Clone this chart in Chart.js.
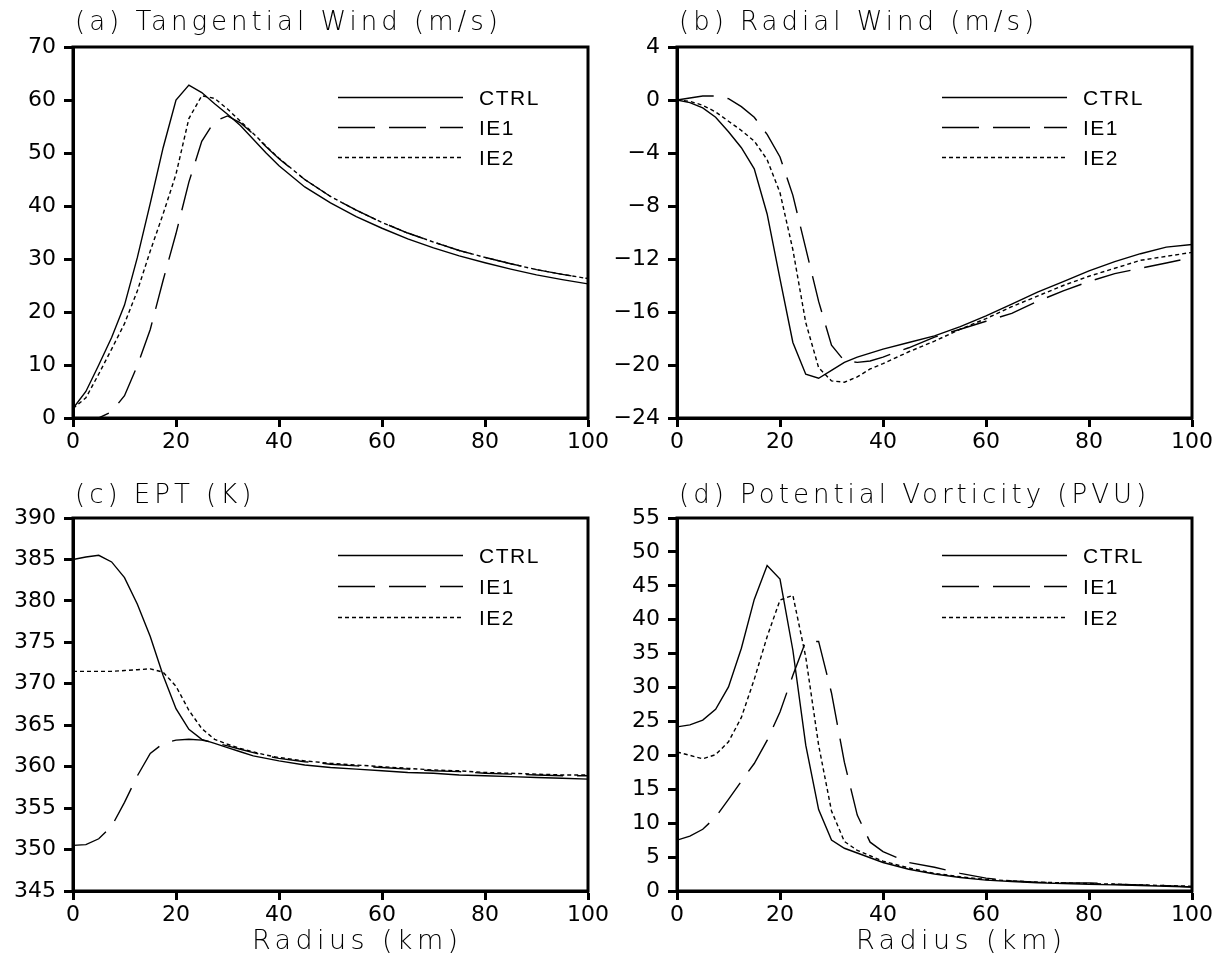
<!DOCTYPE html>
<html>
<head>
<meta charset="utf-8">
<title>Azimuthal mean profiles</title>
<script src="https://cdn.jsdelivr.net/npm/chart.js@4.4.0/dist/chart.umd.min.js"></script>
<style>
  html, body { margin: 0; padding: 0; background: #fff; }
  #page { position: relative; width: 1228px; height: 960px; background: #fff; }
  .panel { position: absolute; }
</style>
</head>
<body>
<div id="page">
  <div class="panel" style="left:0;top:0;width:614px;height:470px"><canvas id="tang"></canvas></div>
  <div class="panel" style="left:614px;top:0;width:614px;height:470px"><canvas id="rad"></canvas></div>
  <div class="panel" style="left:0;top:470px;width:614px;height:490px"><canvas id="ept"></canvas></div>
  <div class="panel" style="left:614px;top:470px;width:614px;height:490px"><canvas id="pv"></canvas></div>
</div>
<script>
// Radius grid (km)
const radius = [0, 2.5, 5, 7.5, 10, 12.5, 15, 17.5, 20, 22.5, 25, 27.5, 30, 32.5, 35, 37.5, 40,
                45, 50, 55, 60, 65, 70, 75, 80, 85, 90, 95, 100];
const runs = ['CTRL', 'IE1', 'IE2'];

// (a) tangential wind, m/s
const tangCtrl = [1.8, 5, 10, 15.2, 21.3, 30.3, 40.5, 51, 60, 62.8, 61.4, 59.3, 57.3, 55.2, 52.6, 50.0, 47.6,
                  43.6, 40.6, 38.0, 35.8, 33.8, 32.1, 30.6, 29.3, 28.1, 27.0, 26.1, 25.3];
const tangIe1  = [0, 0, 0, 1.2, 4.2, 9.9, 16.7, 26, 34.8, 44.5, 52.2, 56, 57, 55.7, 53.6, 51.2, 48.9,
                  45.0, 41.8, 39.2, 36.9, 34.9, 33.2, 31.6, 30.3, 29.1, 28.0, 27.1, 26.3];
const tangIe2  = [1.8, 3.8, 8.3, 13, 17.8, 24, 31.5, 38.5, 46, 56.5, 60.8, 60.3, 58.3, 56.0, 53.7, 51.3, 49.0,
                  45.0, 41.8, 39.2, 36.9, 34.9, 33.2, 31.6, 30.3, 29.1, 28.0, 27.1, 26.3];

// (b) radial wind, m/s
const radCtrl = [0, -0.2, -0.6, -1.3, -2.4, -3.6, -5.2, -8.6, -13.5, -18.3, -20.7, -21.0, -20.4, -19.8, -19.4, -19.1, -18.8,
                 -18.3, -17.8, -17.1, -16.3, -15.4, -14.5, -13.7, -12.9, -12.2, -11.6, -11.1, -10.9];
const radIe1  = [0, 0.15, 0.3, 0.3, 0.1, -0.5, -1.3, -2.6, -4.3, -7.2, -11.2, -15.2, -18.5, -19.7, -19.8, -19.7, -19.4,
                 -18.7, -17.9, -17.3, -16.7, -16.1, -15.2, -14.4, -13.7, -13.1, -12.7, -12.3, -11.9];
const radIe2  = [0, -0.1, -0.4, -0.9, -1.6, -2.3, -3.1, -4.5, -7.0, -11.3, -16.8, -20.2, -21.2, -21.3, -20.9, -20.3, -19.9,
                 -19.0, -18.2, -17.3, -16.5, -15.6, -14.8, -14.0, -13.3, -12.7, -12.1, -11.8, -11.5];

// (c) equivalent potential temperature, K
const eptCtrl = [385, 385.3, 385.5, 384.7, 382.8, 379.6, 375.7, 371, 367, 364.5, 363.3, 362.8, 362.3, 361.8, 361.3, 361, 360.7,
                 360.2, 359.9, 359.7, 359.5, 359.3, 359.2, 359, 358.9, 358.8, 358.7, 358.6, 358.5];
const eptIe1  = [350.5, 350.6, 351.3, 352.8, 355.7, 358.9, 361.6, 362.8, 363.2, 363.3, 363.2, 362.9, 362.5, 362.1, 361.7, 361.3, 361,
                 360.6, 360.3, 360.1, 359.9, 359.7, 359.5, 359.4, 359.2, 359.1, 359, 358.9, 358.9];
const eptIe2  = [371.5, 371.5, 371.5, 371.5, 371.6, 371.7, 371.8, 371.4, 369.7, 366.8, 364.6, 363.3, 362.7, 362.2, 361.8, 361.4, 361.1,
                 360.7, 360.4, 360.2, 360, 359.8, 359.6, 359.5, 359.3, 359.2, 359.1, 359, 359];

// (d) potential vorticity, PVU
const pvCtrl = [24.2, 24.5, 25.2, 26.8, 30.1, 35.8, 43, 48, 46, 35.5, 21.5, 12, 7.5, 6.3, 5.6, 4.9, 4.2,
                3.2, 2.5, 2.0, 1.6, 1.4, 1.2, 1.1, 1.0, 0.9, 0.8, 0.7, 0.6];
const pvIe1  = [7.5, 8.1, 9.1, 10.9, 13.5, 16.2, 18.8, 22.2, 26.4, 31.8, 36.8, 36.8, 29.2, 19, 11.2, 7.2, 5.8,
                4.2, 3.5, 2.6, 1.9, 1.5, 1.3, 1.2, 1.2, 1.0, 0.9, 0.8, 0.6];
const pvIe2  = [20.5, 20.0, 19.5, 20.1, 22, 25.6, 31.2, 37.5, 42.9, 43.6, 34.5, 21.5, 11.8, 7.3, 6, 5.2, 4.4,
                3.4, 2.6, 2.1, 1.7, 1.5, 1.3, 1.2, 1.1, 1.0, 0.9, 0.8, 0.7];

// dash pattern per run
const dashes = { CTRL: [], IE1: [37, 14], IE2: [4, 3] };

const pts = vals => radius.map((r, i) => ({ x: r, y: vals[i] }));
const minus = v => (v < 0 ? '\u2212' + Math.abs(v) : String(v));

// frame, panel title, in-plot legend and radius label
const panelDecor = {
  id: 'panelDecor',
  afterDraw(chart, args, opts) {
    const { ctx, chartArea: a } = chart;
    ctx.save();
    ctx.strokeStyle = '#000';
    ctx.fillStyle = '#000';
    ctx.lineWidth = 3;
    ctx.strokeRect(a.left, a.top, a.right - a.left, a.bottom - a.top);

    ctx.textAlign = 'left';
    ctx.textBaseline = 'alphabetic';
    ctx.font = '200 26px "DejaVu Sans"';
    ctx.letterSpacing = '4px';
    ctx.fillText(opts.title, a.left + 2, a.top - opts.titleGap);

    if (opts.xTitle) {
      ctx.font = '200 27px "DejaVu Sans"';
      ctx.letterSpacing = '4.4px';
      ctx.fillText(opts.xTitle, a.left + 179, a.bottom + 58);
    }

    ctx.font = '21px "Liberation Sans", Arial, sans-serif';
    ctx.letterSpacing = '1.5px';
    chart.data.datasets.forEach((ds, i) => {
      const y = Math.round(a.top + opts.legendTop + i * opts.legendStep) + 0.5;
      const x0 = a.left + 265;
      ctx.beginPath();
      ctx.setLineDash(ds.borderDash);
      ctx.lineWidth = ds.borderWidth;
      ctx.moveTo(x0, y);
      ctx.lineTo(x0 + 125, y);
      ctx.stroke();
      ctx.setLineDash([]);
      ctx.fillText(ds.label, x0 + 141, y + 7.5);
    });
    ctx.restore();
  }
};

function makePanel(id, cfg) {
  const series = [cfg.ctrl, cfg.ie1, cfg.ie2];
  const tickFont = { family: 'DejaVu Sans', size: 22 };
  const axisGrid = { drawOnChartArea: false, drawTicks: true, tickLength: 9, tickWidth: 3, tickColor: '#000' };
  return new Chart(document.getElementById(id), {
    type: 'line',
    data: {
      datasets: runs.map((name, i) => ({
        label: name,
        data: pts(series[i]),
        borderColor: '#000',
        borderWidth: 1.4,
        borderDash: dashes[name],
        pointRadius: 0,
        fill: false,
        tension: 0
      }))
    },
    options: {
      responsive: true,
      maintainAspectRatio: false,
      animation: false,
      devicePixelRatio: 1,
      layout: { padding: cfg.padding },
      scales: {
        x: {
          type: 'linear',
          min: 0, max: 100,
          grid: axisGrid,
          border: { display: true, color: '#000', width: 3 },
          ticks: { stepSize: 20, color: '#000', font: tickFont, padding: cfg.xPad, maxRotation: 0 },
          afterFit: s => { s.height = cfg.xHeight; }
        },
        y: {
          type: 'linear',
          min: cfg.yMin, max: cfg.yMax,
          grid: axisGrid,
          border: { display: true, color: '#000', width: 3 },
          ticks: { stepSize: cfg.yStep, color: '#000', font: tickFont, padding: 8, callback: minus },
          afterFit: s => { s.width = cfg.yWidth; }
        }
      },
      plugins: {
        legend: { display: false },
        tooltip: { enabled: false },
        panelDecor: {
          title: cfg.title, titleGap: cfg.titleGap, xTitle: cfg.xTitle,
          legendTop: cfg.legendTop, legendStep: cfg.legendStep
        }
      }
    },
    plugins: [panelDecor]
  });
}

makePanel('tang', {
  ctrl: tangCtrl, ie1: tangIe1, ie2: tangIe2,
  yMin: 0, yMax: 70, yStep: 10,
  title: '(a) Tangential Wind (m/s)', titleGap: 17,
  padding: { top: 47, right: 26, bottom: 0, left: 0 }, yWidth: 73, xHeight: 52, xPad: 2,
  legendTop: 50, legendStep: 30
});
makePanel('rad', {
  ctrl: radCtrl, ie1: radIe1, ie2: radIe2,
  yMin: -24, yMax: 4, yStep: 4,
  title: '(b) Radial Wind (m/s)', titleGap: 17,
  padding: { top: 47, right: 36, bottom: 0, left: 0 }, yWidth: 63, xHeight: 52, xPad: 2,
  legendTop: 50, legendStep: 30
});
makePanel('ept', {
  ctrl: eptCtrl, ie1: eptIe1, ie2: eptIe2,
  yMin: 345, yMax: 390, yStep: 5,
  title: '(c) EPT (K)', titleGap: 15.5, xTitle: 'Radius (km)',
  padding: { top: 48, right: 26, bottom: 0, left: 0 }, yWidth: 73, xHeight: 69, xPad: 2,
  legendTop: 37, legendStep: 30.8
});
makePanel('pv', {
  ctrl: pvCtrl, ie1: pvIe1, ie2: pvIe2,
  yMin: 0, yMax: 55, yStep: 5,
  title: '(d) Potential Vorticity (PVU)', titleGap: 15.5, xTitle: 'Radius (km)',
  padding: { top: 48, right: 36, bottom: 0, left: 0 }, yWidth: 63, xHeight: 69, xPad: 2,
  legendTop: 37, legendStep: 30.8
});
</script>
</body>
</html>
